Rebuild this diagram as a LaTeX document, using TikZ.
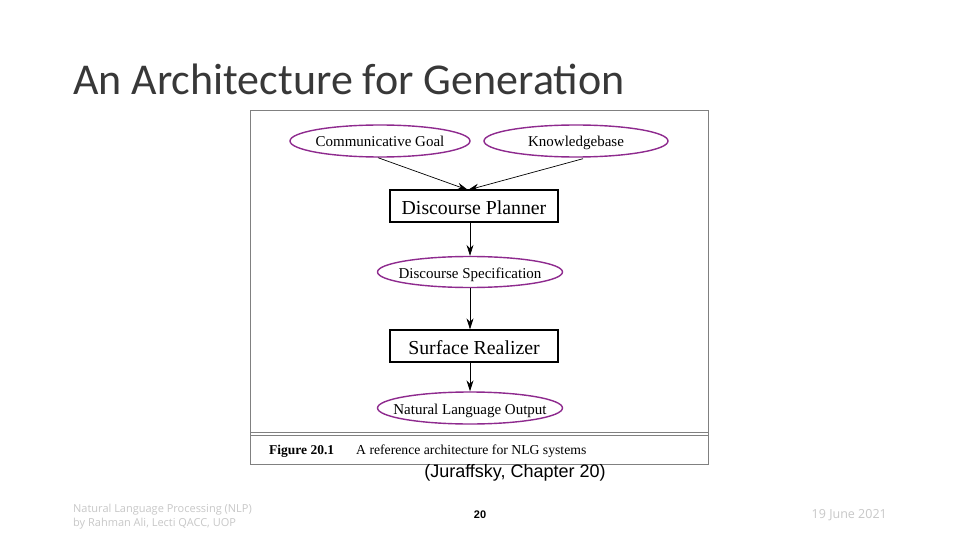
\documentclass[tikz,border=0pt]{standalone}
\usepackage{fontspec}
\setmainfont{Liberation Serif}
\newfontfamily\titlefont{Carlito}
\newfontfamily\arialfont{Liberation Sans}
\newfontfamily\footfont{Open Sans}
\usetikzlibrary{shapes.geometric,arrows.meta}
\definecolor{ellpurple}{HTML}{8E2A8E}
\definecolor{framegray}{HTML}{808080}
\definecolor{footgray}{HTML}{C8C8C8}
\newcommand{\zw}[1]{\makebox[0pt]{#1}}
\tikzset{
  goal/.style={ellipse, draw=ellpurple, line width=1.4pt, minimum height=32pt, inner sep=0pt, text height=13pt, text depth=1pt, font=\fontsize{15}{17}\selectfont},
  proc/.style={rectangle, draw=black, line width=1.2pt, minimum width=168pt, minimum height=32pt, inner sep=0pt, text height=17pt, text depth=1pt, font=\fontsize{19.8}{22}\selectfont},
  flow/.style={-{Stealth[length=11pt,width=7pt]}, line width=0.7pt},
}
\begin{document}
\begin{tikzpicture}[x=1pt,y=-1pt]
\useasboundingbox (0,0) rectangle (960,540);
\fill[white] (0,0) rectangle (960,540);
\node[anchor=base west, font=\titlefont\fontsize{44}{48}\selectfont, text=black!78, inner sep=0pt] (title) at (73,95) {An Architecture for Generation};
% frame
\draw[framegray, line width=1pt] (250,111) rectangle (708,464);
\draw[framegray, line width=0.8pt] (250,432) -- (708,432);
\draw[framegray, line width=0.8pt] (250,435.5) -- (708,435.5);
\node[anchor=base west, font=\bfseries\fontsize{13.5}{15}\selectfont, inner sep=0pt] (fig) at (269,454) {Figure 20.1};
\node[anchor=base west, font=\fontsize{13.7}{15}\selectfont, inner sep=0pt] (cap) at (356,454) {A reference architecture for NLG systems};
% nodes
\node[goal, minimum width=180pt] (cg) at (380,141) {\zw{Communicative Goal}};
\node[goal, minimum width=184pt] (kb) at (576,141) {\zw{Knowledgebase}};
\node[proc] (dp) at (474,206) {Discourse Planner};
\node[goal, minimum width=185pt, minimum height=31pt] (ds) at (470,272) {\zw{Discourse Specification}};
\node[proc] (sr) at (474,346) {Surface Realizer};
\node[goal, minimum width=185pt] (nlo) at (470,408) {\zw{Natural Language Output}};
\coordinate (dptop) at (468,190);
\draw[flow] (cg.south) ++(-2,0) -- (dptop);
\draw[flow] (kb.south) ++(7,1) -- (dptop);
\draw[flow] (dp.south -| ds.north) -- (ds.north);
\draw[flow] (ds.south) -- (sr.north -| ds.south);
\draw[flow] (sr.south -| nlo.north) -- (nlo.north);
% source
\node[anchor=base, font=\arialfont\fontsize{18}{20}\selectfont, inner sep=0pt] (src) at (515,477) {(Juraffsky, Chapter 20)};
% footer
\node[anchor=base west, font=\footfont\fontsize{11}{13}\selectfont, text=footgray, align=left, inner sep=0pt] (ft1) at (73,512) {Natural Language Processing (NLP)};
\node[anchor=base west, font=\footfont\fontsize{11}{13}\selectfont, text=footgray, inner sep=0pt] (ft2) at (73,526) {by Rahman Ali, Lecti QACC, UOP};
\node[anchor=base, font=\arialfont\bfseries\fontsize{11}{13}\selectfont, inner sep=0pt] (pg) at (480,518) {20};
\node[anchor=base east, font=\footfont\fontsize{12.5}{14}\selectfont, text=footgray, inner sep=0pt] (dt) at (887,518) {19 June 2021};
\end{tikzpicture}
\end{document}
